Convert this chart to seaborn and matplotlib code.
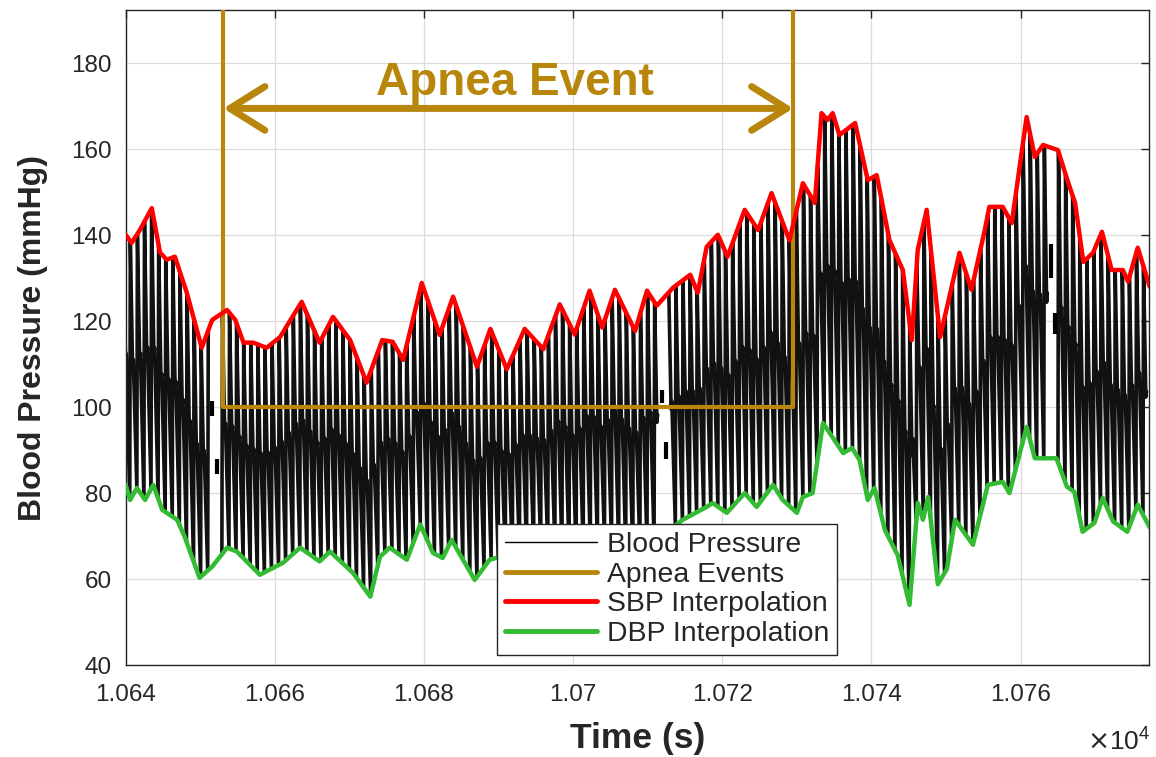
import matplotlib

matplotlib.use("Agg")
import matplotlib.pyplot as plt
import numpy as np
import pandas as pd
import seaborn as sns
from matplotlib.lines import Line2D
from matplotlib.patches import FancyArrowPatch


# systolic envelope (time in s, mmHg)
SBP_T = [10640.0, 10640.8, 10641.9, 10643.5, 10644.6, 10645.5, 10646.6, 10648.2, 10650.2, 10651.6,
         10653.6, 10654.7, 10655.8, 10657.1, 10658.9, 10660.7, 10663.6, 10666.0, 10667.8, 10670.1,
         10672.3, 10674.4, 10675.8, 10677.2, 10679.7, 10682.1, 10683.9, 10687.1, 10688.9, 10691.1,
         10693.5, 10696.0, 10698.2, 10700.2, 10702.2, 10703.9, 10705.6, 10708.3, 10709.9, 10711.2,
         10713.4, 10715.7, 10716.7, 10717.9, 10719.4, 10720.7, 10723.0, 10724.8, 10726.6, 10729.0,
         10730.8, 10732.4, 10733.3, 10734.1, 10734.8, 10735.7, 10737.8, 10739.5, 10740.7, 10742.4,
         10744.2, 10745.4, 10746.2, 10747.4, 10749.2, 10751.8, 10753.4, 10755.2, 10755.8, 10757.6,
         10758.8, 10760.8, 10761.9, 10763.0, 10765.0, 10766.4, 10767.3, 10768.4, 10769.7, 10770.9,
         10772.2, 10773.7, 10774.4, 10775.7, 10777.3]
SBP_V = [140.1, 138.2, 141.2, 146.3, 136.0, 134.3, 135.0, 126.6, 113.8, 120.3,
         122.6, 120.3, 115.0, 115.0, 113.8, 116.3, 124.5, 115.0, 121.0, 115.6,
         105.7, 115.6, 115.2, 111.0, 128.9, 116.8, 125.7, 109.4, 118.2, 108.8,
         118.2, 113.5, 123.9, 116.9, 127.1, 118.5, 127.3, 117.7, 127.1, 123.6,
         127.8, 130.8, 126.6, 137.3, 140.1, 135.0, 145.9, 141.2, 149.8, 138.8,
         152.1, 147.5, 168.4, 166.8, 168.4, 163.3, 166.1, 152.8, 154.0, 138.9,
         131.9, 115.6, 136.6, 145.9, 116.3, 135.9, 127.3, 141.3, 146.6, 146.6,
         142.8, 167.5, 158.2, 161.0, 159.8, 152.1, 147.5, 133.8, 135.9, 140.8,
         131.9, 131.9, 129.2, 137.1, 128.0]

# diastolic envelope
DBP_T = [10640.0, 10640.6, 10641.5, 10642.6, 10643.7, 10644.9, 10646.9, 10647.9, 10649.9, 10651.6,
         10653.6, 10654.9, 10658.0, 10661.1, 10663.4, 10666.0, 10667.4, 10670.5, 10672.8, 10674.1,
         10675.4, 10677.7, 10679.5, 10681.2, 10682.5, 10683.7, 10686.8, 10688.8, 10692.0, 10696.0,
         10700.0, 10704.0, 10708.0, 10711.0, 10714.7, 10717.9, 10718.7, 10720.6, 10723.0, 10724.6,
         10726.8, 10728.1, 10730.0, 10730.8, 10732.1, 10733.5, 10736.2, 10737.4, 10738.4, 10739.5,
         10740.4, 10741.8, 10743.5, 10745.1, 10746.2, 10746.9, 10747.6, 10748.9, 10750.1, 10751.2,
         10753.6, 10755.6, 10757.6, 10758.5, 10760.8, 10761.9, 10764.8, 10766.2, 10767.2, 10768.3,
         10769.9, 10771.0, 10772.4, 10774.3, 10775.7, 10777.3]
DBP_V = [81.9, 78.4, 81.2, 78.4, 81.9, 76.1, 73.8, 69.9, 60.3, 62.9,
         67.3, 66.4, 61.0, 63.8, 67.3, 64.1, 66.4, 61.4, 55.9, 65.2,
         67.3, 64.5, 72.7, 66.1, 64.9, 69.1, 59.8, 64.5, 66.0, 68.0,
         66.0, 69.0, 66.0, 69.0, 73.8, 76.8, 77.7, 75.4, 80.0, 76.8,
         81.9, 78.4, 75.4, 79.1, 80.0, 96.3, 89.3, 90.5, 87.7, 78.4,
         81.2, 71.4, 65.6, 54.0, 77.7, 73.8, 79.1, 58.8, 62.3, 73.8,
         68.0, 81.9, 82.6, 80.0, 95.4, 88.1, 88.1, 81.5, 80.3, 71.0,
         73.1, 78.9, 73.4, 71.0, 77.3, 72.0]

# one heartbeat as a fraction of the pulse (0 = diastolic, 1 = systolic)
BEAT_PERIOD = 0.95
BEAT_PHASE = [0.0, 0.08, 0.4, 0.5]
BEAT_SHAPE = [0.0, 1.0, 0.5, 0.53]

# dropouts in the pressure recording, with the short traces left inside them
GAP_START = [10651.1, 10711.6, 10763.6]
GAP_END = [10652.6, 10712.8, 10765.0]
GAP_MARK_T = [10651.6, 10652.3, 10711.9, 10712.5, 10764.1, 10764.6]
GAP_MARK_LO = [98.0, 84.5, 101.0, 88.0, 130.0, 117.0]
GAP_MARK_HI = [101.5, 88.0, 104.0, 92.0, 138.0, 122.0]

APNEA_START = 10653.1
APNEA_END = 10729.5
APNEA_FLOOR = 100
ARROW_LEVEL = 169.5

X_TICKS = [10640, 10660, 10680, 10700, 10720, 10740, 10760]
Y_TICKS = [40, 60, 80, 100, 120, 140, 160, 180]

GOLD = "#B8860B"
GREEN = "#33BB33"
AXIS_GREY = "#262626"


def build_waveform() -> pd.DataFrame:
    onsets = np.arange(SBP_T[0] - 0.4, SBP_T[-1], BEAT_PERIOD)
    t = (onsets[:, None] + np.array(BEAT_PHASE)[None, :] * BEAT_PERIOD).ravel()
    shape = np.tile(BEAT_SHAPE, len(onsets))
    low = np.interp(t, DBP_T, DBP_V)
    high = np.interp(t, SBP_T, SBP_V)
    df = pd.DataFrame({"time": t, "bp": low + shape * (high - low)})
    segment = np.zeros(len(df), dtype=int)
    keep = np.ones(len(df), dtype=bool)
    for i, (a, b) in enumerate(zip(GAP_START, GAP_END)):
        keep &= ~((df["time"] > a) & (df["time"] < b))
        segment[df["time"] >= b] = i + 1
    df["segment"] = segment
    return df[keep & (df["time"] <= SBP_T[-1])]


def main() -> None:
    sns.set_style("white")
    plt.rcParams["font.family"] = ["Liberation Sans", "DejaVu Sans"]

    fig = plt.figure(figsize=(11.56, 7.57), dpi=100)
    ax = fig.add_axes([0.1087, 0.1215, 0.8852, 0.8653])

    wave = build_waveform()
    sns.lineplot(data=wave, x="time", y="bp", units="segment", estimator=None,
                 sort=False, color="#111111", lw=2.6, ax=ax, zorder=2)
    ax.vlines(GAP_MARK_T, GAP_MARK_LO, GAP_MARK_HI, color="black", lw=3.0, zorder=2)

    ax.plot([APNEA_START, APNEA_START, APNEA_END, APNEA_END],
            [250, APNEA_FLOOR, APNEA_FLOOR, 250], color=GOLD, lw=3.0, zorder=3)

    sns.lineplot(x=SBP_T, y=SBP_V, sort=False, estimator=None, color="#FF0000",
                 lw=3.2, ax=ax, zorder=4)
    sns.lineplot(x=DBP_T, y=DBP_V, sort=False, estimator=None, color=GREEN,
                 lw=3.2, ax=ax, zorder=4)

    arrow = FancyArrowPatch((APNEA_START, ARROW_LEVEL), (APNEA_END, ARROW_LEVEL),
                            arrowstyle="<->,head_length=0.4,head_width=0.25",
                            mutation_scale=63, color=GOLD, lw=5.0,
                            shrinkA=0, shrinkB=0, capstyle="round",
                            joinstyle="round", zorder=5)
    ax.add_patch(arrow)
    ax.text(10692.2, 175.4, "Apnea Event", color=GOLD,
            fontsize=33, fontweight="bold", ha="center", va="center", zorder=6)

    ax.set_xlim(10640, 10777.2)
    ax.set_ylim(40, 192.4)
    ax.set_xticks(X_TICKS)
    ax.set_yticks(Y_TICKS)
    ax.xaxis.set_major_formatter(lambda x, _: f"{x / 1e4:g}")
    ax.tick_params(direction="in", length=6, width=1, colors=AXIS_GREY,
                   labelsize=17.5, top=True, right=True)
    ax.tick_params(axis="x", pad=14)
    ax.tick_params(axis="y", pad=10)
    ax.grid(True, color="#DCDCDC", lw=0.9)
    ax.set_axisbelow(True)
    for spine in ax.spines.values():
        spine.set_color(AXIS_GREY)
        spine.set_linewidth(1.0)

    ax.set_xlabel("Time (s)", fontsize=25.5, fontweight="bold", color=AXIS_GREY)
    ax.set_ylabel("Blood Pressure (mmHg)", fontsize=23, fontweight="bold", color=AXIS_GREY)
    ax.xaxis.set_label_coords(0.5, -0.087)
    ax.xaxis.label.set_va("top")
    ax.yaxis.set_label_coords(-0.076, 0.5)
    fig.text(0.995, 0.02, r"$\times\mathregular{10^{4}}$", fontsize=19,
             color=AXIS_GREY, ha="right", va="center")

    handles = [
        Line2D([], [], color="black", lw=1.0),
        Line2D([], [], color=GOLD, lw=3.5),
        Line2D([], [], color="#FF0000", lw=3.5),
        Line2D([], [], color=GREEN, lw=3.5),
    ]
    labels = ["Blood Pressure", "Apnea Events", "SBP Interpolation", "DBP Interpolation"]
    leg = ax.legend(handles, labels, loc="lower left", bbox_to_anchor=(0.3628, 0.0153),
                    borderaxespad=0, fontsize=20.4, frameon=True, fancybox=False,
                    framealpha=1, edgecolor=AXIS_GREY, handlelength=3.25,
                    labelspacing=0.13, borderpad=0.28, handletextpad=0.35)
    leg.get_frame().set_linewidth(1.0)
    leg.set_zorder(10)

    fig.savefig("out.png", dpi=100)
    plt.close(fig)


if __name__ == "__main__":
    main()
